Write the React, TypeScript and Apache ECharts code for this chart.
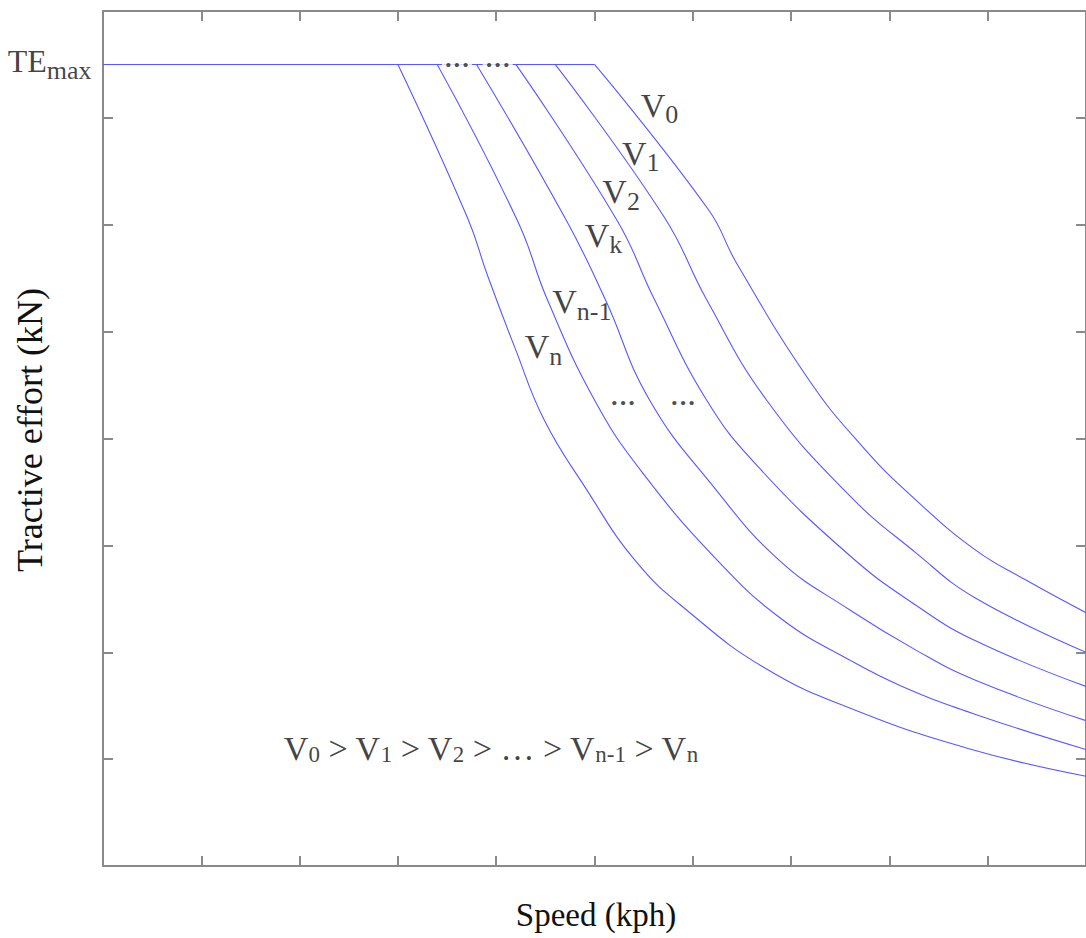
import { useEffect, useRef } from 'react';
import * as echarts from 'echarts';

// Axis extents (the figure carries no numeric tick labels)
const speedMax = 10;
const effortMax = 8;
const teMax = 7.5;

// Tractive-effort curves, one per supply voltage, after leaving the TEmax plateau
const curveV0 = [[5.0, 7.5], [6.16, 6.14], [6.44, 5.65], [7.18, 4.55], [7.73, 3.92], [8.24, 3.45], [8.87, 2.96], [9.38, 2.68], [10, 2.37]];
const curveV1 = [[4.6, 7.5], [5.71, 6.07], [6.14, 5.3], [6.75, 4.36], [7.59, 3.47], [8.27, 2.93], [8.87, 2.51], [10, 2.0]];
const curveV2 = [[4.2, 7.5], [5.23, 6.04], [5.61, 5.3], [6.14, 4.36], [6.65, 3.75], [7.59, 2.91], [8.27, 2.44], [8.87, 2.11], [10, 1.68]];
const curveVk = [[3.8, 7.5], [4.72, 6.03], [5.11, 5.3], [5.56, 4.36], [6.21, 3.55], [6.88, 2.86], [7.59, 2.4], [8.27, 2.02], [8.87, 1.74], [10, 1.36]];
const curveVn1 = [[3.4, 7.5], [4.22, 6.03], [4.52, 5.3], [5.0, 4.36], [5.48, 3.69], [6.27, 2.84], [6.92, 2.3], [7.59, 1.93], [8.13, 1.68], [8.87, 1.42], [10, 1.09]];
const curveVn = [[3.0, 7.5], [3.71, 6.06], [3.91, 5.53], [4.19, 4.85], [4.49, 4.17], [4.9, 3.55], [5.43, 2.84], [5.97, 2.37], [6.72, 1.86], [7.59, 1.48], [8.8, 1.1], [10, 0.84]];
const curves = [curveV0, curveV1, curveV2, curveVk, curveVn1, curveVn];

// Curve labels: subscript and anchor (left edge, vertical middle)
const curveSubs = ['0', '1', '2', 'k', 'n-1', 'n'];
const curveLabelAt = [[5.47, 7.12], [5.28, 6.67], [5.08, 6.31], [4.9, 5.9], [4.57, 5.28], [4.29, 4.86]];

// Ellipsis marks between curves
const ellipsisAt = [[3.6, 7.5], [4.015, 7.5], [5.29, 4.34], [5.9, 4.34]];

// Ordering statement
const orderingAt = [1.84, 1.1];

const serif = "'Liberation Serif', 'Times New Roman', serif";
const ink = '#111111';
const lineBlue = '#5858ff';
const axisGrey = '#8a8a8a';

const richCurve = {
  v: { fontFamily: serif, fontSize: 34, lineHeight: 36, color: ink },
  s: { fontFamily: serif, fontSize: 26, lineHeight: 26, color: ink, padding: [19, 0, 0, 0] },
};
const richOrdering = {
  v: { fontFamily: serif, fontSize: 34, lineHeight: 36, color: ink },
  s: { fontFamily: serif, fontSize: 23, lineHeight: 23, color: ink, padding: [12, 0, 0, 0] },
};
const richTe = {
  v: { fontFamily: serif, fontSize: 32, lineHeight: 34, color: ink },
  s: { fontFamily: serif, fontSize: 26, lineHeight: 26, color: ink, padding: [19, 0, 0, 0] },
};

function makeAxis(position: string, min: number, max: number) {
  return {
    type: 'value',
    position,
    min,
    max,
    interval: 1,
    axisLine: { show: true, onZero: false, lineStyle: { color: axisGrey, width: 2 } },
    axisTick: { show: true, inside: true, length: 10, lineStyle: { color: axisGrey, width: 2 } },
    axisLabel: { show: false },
    splitLine: { show: false },
  };
}

function buildOption() {
  const lineSeries = curves.map((pts, i) => ({
    type: 'line',
    name: 'V' + curveSubs[i],
    data: pts,
    showSymbol: false,
    smooth: 0.45,
    lineStyle: { color: lineBlue, width: 1.1 },
    z: 2,
  }));

  const plateau = {
    type: 'line',
    name: 'TEmax',
    data: [[0, teMax], [curveV0[0][0], teMax]],
    showSymbol: false,
    lineStyle: { color: lineBlue, width: 1.1 },
    z: 2,
  };

  const labelData: any[] = [];
  curveSubs.forEach((sub, i) => {
    labelData.push({
      value: curveLabelAt[i],
      label: {
        show: true,
        position: 'inside',
        align: 'left',
        verticalAlign: 'middle',
        formatter: `{v|V}{s|${sub}}`,
        rich: richCurve,
      },
    });
  });
  labelData.push({
    value: orderingAt,
    label: {
      show: true,
      position: 'inside',
      align: 'left',
      verticalAlign: 'middle',
      formatter: '{v|V}{s|0}{v| > V}{s|1}{v| > V}{s|2}{v| > … > V}{s|n-1}{v| > V}{s|n}',
      rich: richOrdering,
    },
  });
  labelData.push({
    value: [0, teMax],
    label: {
      show: true,
      position: 'left',
      distance: 11,
      offset: [0, -3],
      formatter: '{v|TE}{s|max}',
      rich: richTe,
    },
  });
  ellipsisAt.forEach((p, i) => {
    labelData.push({
      value: [p[0], p[1]],
      label: {
        show: true,
        position: 'inside',
        align: 'center',
        verticalAlign: 'middle',
        formatter: '···',
        fontFamily: serif,
        fontSize: 26,
        fontWeight: 'bold',
        lineHeight: 12,
        color: '#222',
        backgroundColor: i < 2 ? '#ffffff' : 'transparent',
        padding: [0, 2],
      },
    });
  });

  const annotations = {
    type: 'scatter',
    data: labelData,
    symbolSize: 1,
    itemStyle: { color: 'transparent' },
    silent: true,
    clip: false,
    z: 5,
  };

  return {
    animation: false,
    backgroundColor: '#ffffff',
    grid: { left: 103, top: 11, width: 988, height: 855 },
    xAxis: [makeAxis('bottom', 0, speedMax), makeAxis('top', 0, speedMax)],
    yAxis: [makeAxis('left', 0, effortMax), makeAxis('right', 0, effortMax)],
    series: [plateau, ...lineSeries, annotations],
    graphic: [
      {
        type: 'text',
        x: 596,
        y: 915,
        style: { text: 'Speed (kph)', fontFamily: serif, fontSize: 33, fill: ink, align: 'center', verticalAlign: 'middle' },
      },
      {
        type: 'text',
        x: 30,
        y: 430,
        rotation: Math.PI / 2,
        style: { text: 'Tractive effort (kN)', fontFamily: serif, fontSize: 36, fill: ink, align: 'center', verticalAlign: 'middle' },
      },
    ],
  };
}

export default function App() {
  const ref = useRef<HTMLDivElement>(null);
  useEffect(() => {
    document.body.style.margin = '0';
    document.body.style.overflow = 'hidden';
    const chart = echarts.init(ref.current!, null, { renderer: 'svg' });
    chart.setOption(buildOption() as any);
    return () => chart.dispose();
  }, []);
  return <div ref={ref} style={{ width: 1086, height: 938 }} />;
}
